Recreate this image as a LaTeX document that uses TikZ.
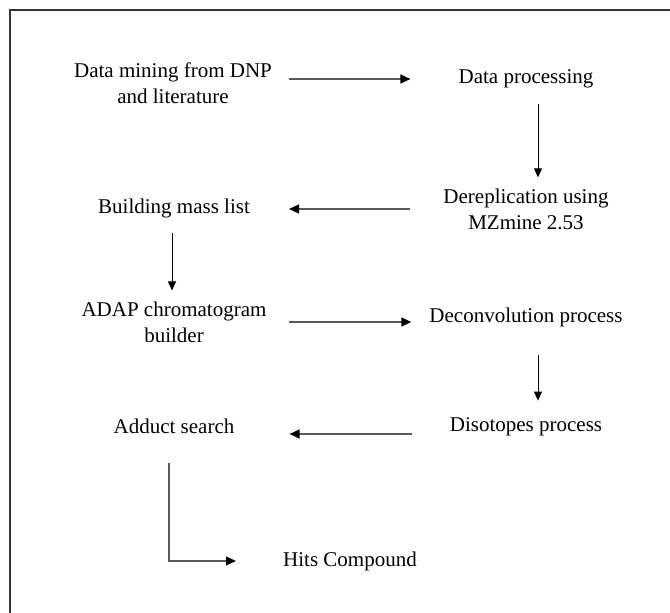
\documentclass[tikz,border=0pt]{standalone}
\usepackage{fontspec}
\setmainfont{Liberation Serif}
\usetikzlibrary{arrows.meta}
\begin{document}
\begin{tikzpicture}[x=1pt,y=-1pt,
  txt/.style={inner sep=0pt,align=center,font=\fontsize{21}{26}\selectfont},
  harr/.style={line width=1.5pt,draw=black!65,-{Triangle[length=10pt,width=9pt,color=black]}},
  varr/.style={line width=0.9pt,draw=black,-{Triangle[length=9pt,width=8pt]}},
  frameline/.style={line width=1.6pt,draw=black!80}]
\useasboundingbox (0,0) rectangle (670,613);
\draw[frameline] (670,10) -- (10,10) -- (10,613);
\node[txt] (dm) at (173,83) {Data mining from DNP\\and literature};
\node[txt] (dp) at (526,79) {Data processing};
\node[txt] (der) at (526,209) {Dereplication using\\MZmine 2.53};
\node[txt] (bml) at (174,208) {Building mass list};
\node[txt] (adap) at (174,322) {ADAP chromatogram\\builder};
\node[txt] (dec) at (526,317) {Deconvolution process};
\node[txt] (dis) at (526,427) {Disotopes process};
\node[txt] (add) at (174,426) {Adduct search};
\node[txt] (hits) at (350,561) {Hits Compound};
\draw[harr,shorten <=17pt,shorten >=48pt] (dm.east |- dp) -- (dp.west);
\draw[varr,shorten <=16pt,shorten >=11pt] ([xshift=12pt]dp.south) -- ([xshift=12pt]dp.south |- der.north);
\draw[harr,shorten <=33pt,shorten >=39pt] (der.west) -- (der.west -| bml.east);
\draw[varr,shorten <=15pt,shorten >=11pt] ([xshift=-2pt]bml.south) -- ([xshift=-2pt]bml.south |- adap.north);
\draw[harr,shorten <=22pt,shorten >=18pt] (adap.east) -- (adap.east -| dec.west);
\draw[varr,shorten <=28pt,shorten >=17pt] ([xshift=12pt]dec.south) -- ([xshift=12pt]dec.south |- dis.north);
\draw[harr,shorten <=38pt,shorten >=55pt] ([yshift=-7pt]dis.west) -- ([yshift=-7pt]dis.west -| add.east);
\draw[harr,line width=1.2pt,shorten <=29pt,shorten >=47pt] ([xshift=-5pt]add.south) |- (hits.west);
\end{tikzpicture}
\end{document}
